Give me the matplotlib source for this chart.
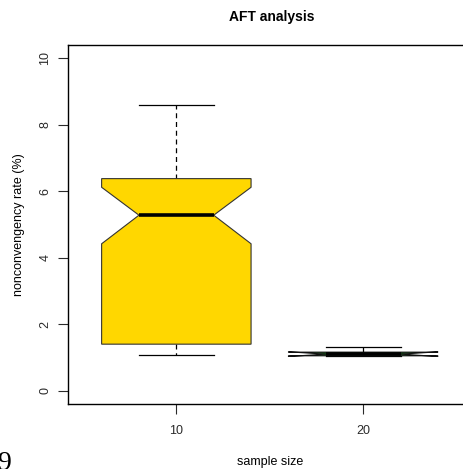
import matplotlib
matplotlib.use("Agg")
import matplotlib.pyplot as plt

plt.rcParams['font.family'] = ['Liberation Sans', 'DejaVu Sans']

# summary statistics per sample size
sample_sizes = ["10", "20"]
q1 = [1.40, 1.05]
medians = [5.28, 1.10]
q3 = [6.38, 1.16]
whisker_low = [1.08, 1.05]
whisker_high = [8.58, 1.30]
notch_low = [4.42, 1.03]
notch_high = [6.12, 1.17]
fill_colors = ["#FFD700", "#0E5A12"]

stats = []
for i in range(len(sample_sizes)):
    stats.append(dict(q1=q1[i], med=medians[i], q3=q3[i],
                      whislo=whisker_low[i], whishi=whisker_high[i],
                      cilo=notch_low[i], cihi=notch_high[i],
                      fliers=[], label=sample_sizes[i]))

fig = plt.figure(figsize=(4.64, 4.69), dpi=100)
ax = fig.add_axes([68 / 464, 65 / 469, 403.5 / 464, 359 / 469])

bp = ax.bxp(stats, positions=[1, 2], widths=0.8, shownotches=True, patch_artist=True,
            showfliers=False,
            boxprops=dict(edgecolor="#333333", linewidth=0.8),
            medianprops=dict(color="black", linewidth=2.6, solid_capstyle="butt"),
            whiskerprops=dict(color="black", linewidth=0.9, linestyle=(0, (4, 3))),
            capprops=dict(color="black", linewidth=0.9),
            capwidths=0.4)
for patch, c in zip(bp["boxes"], fill_colors):
    patch.set_facecolor(c)
    patch.set_zorder(3)
bp["boxes"][1].set_edgecolor("#111111")
for m in bp["medians"]:
    m.set_zorder(4)

ax.set_xlim(0.42, 2.58)
ax.set_ylim(-0.4, 10.4)
ax.set_xticks([1, 2])
ax.set_xticklabels(sample_sizes)
ax.set_yticks([0, 2, 4, 6, 8, 10])
ax.set_yticklabels(["0", "2", "4", "6", "8", "10"], rotation=90, va="center")
ax.tick_params(axis="both", length=7, width=0.8, labelsize=9, colors="#2a2a2a")
ax.tick_params(axis="y", pad=5)
ax.tick_params(axis="x", pad=8)
for s in ax.spines.values():
    s.set_linewidth(1.0)

ax.set_xlabel("sample size", fontsize=9, labelpad=14)
ax.set_ylabel("nonconvengency rate (%)", fontsize=9, labelpad=10)
fig.text(272 / 464, 1 - 17 / 469, "AFT analysis", fontsize=10, fontweight="bold",
         ha="center", va="center")

# stray page number in the lower left corner
fig.text(-0.006, -0.014, "9", fontsize=20, family="Liberation Serif",
         ha="left", va="bottom")

fig.savefig("out.png", dpi=100)
